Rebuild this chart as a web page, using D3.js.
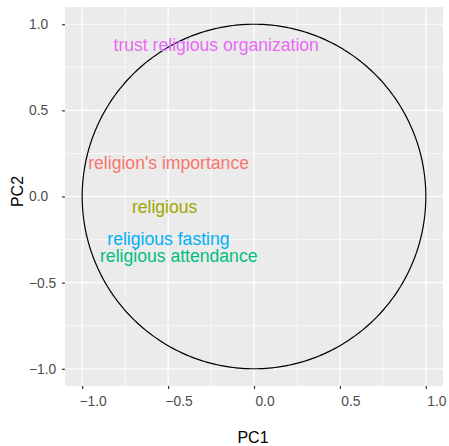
<!DOCTYPE html>
<html>
<head>
<meta charset="utf-8">
<script src="https://cdn.jsdelivr.net/npm/d3@7"></script>
<style>
  body { margin: 0; background: #fff; }
  text { font-family: "Liberation Sans", Arial, Helvetica, sans-serif; }
</style>
</head>
<body>
<div id="chart"></div>
<script>
// variable labels and their loadings on PC1 / PC2
var labels = ["religion's importance", "religious", "religious attendance", "religious fasting", "trust religious organization"];
var pc1 = [-0.497, -0.52, -0.438, -0.498, -0.22];
var pc2 = [0.195, -0.061, -0.343, -0.247, 0.884];
var colors = ["#F8766D", "#A3A500", "#00BF7D", "#00B0F6", "#E76BF3"];
var majorTicks = [-1.0, -0.5, 0.0, 0.5, 1.0];
var minorTicks = [-0.75, -0.25, 0.25, 0.75];

var W = 449, H = 446;
var margin = {top: 7, right: 6, bottom: 60, left: 65};
var width = W - margin.left - margin.right;
var height = H - margin.top - margin.bottom;

var svg = d3.select("#chart").append("svg")
    .attr("width", W)
    .attr("height", H);

var g = svg.append("g")
    .attr("transform", "translate(" + margin.left + "," + margin.top + ")");

var x = d3.scaleLinear().domain([-1.1, 1.1]).range([0, width]);
var y = d3.scaleLinear().domain([-1.1, 1.1]).range([height, 0]);

// panel background
g.append("rect")
    .attr("width", width)
    .attr("height", height)
    .attr("fill", "#EBEBEB");

// minor grid
g.selectAll(".minx").data(minorTicks).enter().append("line")
    .attr("x1", function(d) { return x(d); }).attr("x2", function(d) { return x(d); })
    .attr("y1", 0).attr("y2", height)
    .attr("stroke", "#fff").attr("stroke-width", 0.6);
g.selectAll(".miny").data(minorTicks).enter().append("line")
    .attr("y1", function(d) { return y(d); }).attr("y2", function(d) { return y(d); })
    .attr("x1", 0).attr("x2", width)
    .attr("stroke", "#fff").attr("stroke-width", 0.6);

// major grid
g.selectAll(".majx").data(majorTicks).enter().append("line")
    .attr("x1", function(d) { return x(d); }).attr("x2", function(d) { return x(d); })
    .attr("y1", 0).attr("y2", height)
    .attr("stroke", "#fff").attr("stroke-width", 1.2);
g.selectAll(".majy").data(majorTicks).enter().append("line")
    .attr("y1", function(d) { return y(d); }).attr("y2", function(d) { return y(d); })
    .attr("x1", 0).attr("x2", width)
    .attr("stroke", "#fff").attr("stroke-width", 1.2);

// unit circle
var circle = d3.range(0, 361).map(function(a) {
  var r = a * Math.PI / 180;
  return [Math.cos(r), Math.sin(r)];
});
g.append("path")
    .datum(circle)
    .attr("d", d3.line().x(function(d) { return x(d[0]); }).y(function(d) { return y(d[1]); }))
    .attr("fill", "none")
    .attr("stroke", "#000")
    .attr("stroke-width", 1.2);

// variable labels
g.selectAll(".lab").data(labels).enter().append("text")
    .attr("x", function(d, i) { return x(pc1[i]); })
    .attr("y", function(d, i) { return y(pc2[i]); })
    .attr("text-anchor", "middle")
    .attr("dy", "0.36em")
    .style("font-size", "17.6px")
    .attr("fill", function(d, i) { return colors[i]; })
    .text(function(d) { return d; });

// axes
var fmt = function(d) { return d3.format(".1f")(d).replace("-", "\u2212"); };
var xAxis = g.append("g")
    .attr("transform", "translate(0," + height + ")")
    .call(d3.axisBottom(x).tickValues(majorTicks).tickSize(3).tickPadding(7).tickFormat(fmt));
var yAxis = g.append("g")
    .call(d3.axisLeft(y).tickValues(majorTicks).tickSize(3).tickPadding(5).tickFormat(fmt));
[xAxis, yAxis].forEach(function(a) {
  a.select(".domain").remove();
  a.selectAll(".tick line").attr("stroke", "#333").attr("stroke-width", 1.2);
  a.selectAll(".tick text").attr("fill", "#4D4D4D").style("font-size", "13.8px")
    .style("font-family", "'Liberation Sans', Arial, sans-serif");
});
// tick labels sit a little to the right of their ticks, as in the reference
xAxis.selectAll(".tick text").attr("x", 10.5);
yAxis.selectAll(".tick text").attr("text-anchor", "start").attr("x", 29 - margin.left);

// axis titles
svg.append("text")
    .attr("x", margin.left + width / 2 - 1)
    .attr("y", 443)
    .attr("text-anchor", "middle")
    .style("font-size", "16px")
    .text("PC1");
svg.append("text")
    .attr("transform", "translate(23," + (margin.top + height / 2 - 5) + ") rotate(-90)")
    .attr("text-anchor", "middle")
    .style("font-size", "16px")
    .text("PC2");
</script>
</body>
</html>
